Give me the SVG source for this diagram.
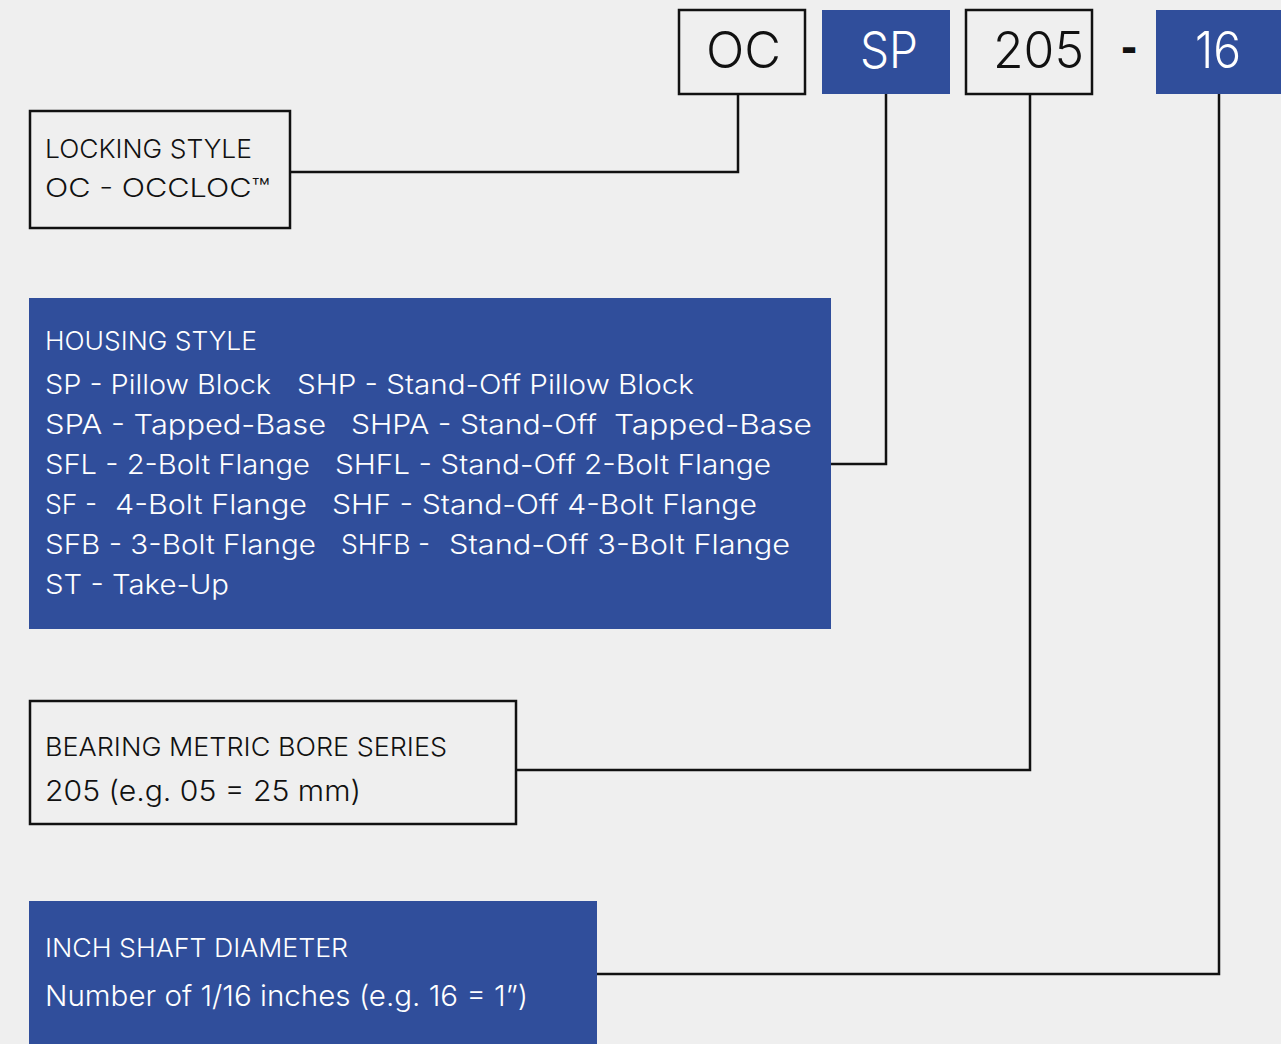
<svg xmlns="http://www.w3.org/2000/svg" width="1281" height="1044" viewBox="0 0 1281 1044">
<style>
.bg{fill:#efefef}
.wbox{fill:#efefef;stroke:#111;stroke-width:2.5}
.bbox{fill:#304e9b}
.t{font-family:Inter,"Open Sans","Liberation Sans",sans-serif;font-weight:300}
.dk{fill:#111}
.lt{fill:#ffffff}
.conn{fill:none;stroke:#111;stroke-width:2.5}
</style>
<rect class="bg" x="0" y="0" width="1281" height="1044"/>
<g id="connectors">
<polyline class="conn" points="738,95 738,172 290,172"/>
<polyline class="conn" points="886,94 886,464 831,464"/>
<polyline class="conn" points="1030,95 1030,770 516,770"/>
<polyline class="conn" points="1219,94 1219,974 597,974"/>
</g>
<g id="code-oc">
<rect class="wbox" x="679" y="10" width="126" height="84"/>
<text class="t dk" x="706" y="68" font-size="50" textLength="75" lengthAdjust="spacingAndGlyphs">OC</text>
</g>
<g id="code-sp">
<rect class="bbox" x="822" y="10" width="128" height="84"/>
<text class="t lt" x="860" y="68" font-size="50" textLength="58" lengthAdjust="spacingAndGlyphs">SP</text>
</g>
<g id="code-205">
<rect class="wbox" x="966" y="10" width="126" height="84"/>
<text class="t dk" x="993" y="68" font-size="50" textLength="91" lengthAdjust="spacingAndGlyphs">205</text>
</g>
<g id="code-dash">
<text x="1129" y="62" font-family="'DejaVu Sans',sans-serif" font-size="40" font-weight="700" fill="#111" text-anchor="middle">-</text>
</g>
<g id="code-16">
<rect class="bbox" x="1156" y="10" width="125" height="84"/>
<text class="t lt" x="1195" y="68" font-size="50" textLength="46" lengthAdjust="spacingAndGlyphs">16</text>
</g>
<g id="locking-style">
<rect class="wbox" x="30" y="111" width="260" height="117"/>
<text class="t dk" x="45" y="158" font-size="26" textLength="207" lengthAdjust="spacingAndGlyphs">LOCKING STYLE</text>
<text class="t dk" x="45" y="197" font-size="26" textLength="225" lengthAdjust="spacingAndGlyphs">OC - OCCLOC™</text>
</g>
<g id="housing-style">
<rect class="bbox" x="29" y="298" width="802" height="331"/>
<text class="t lt" x="45" y="350" font-size="26" textLength="212" lengthAdjust="spacingAndGlyphs">HOUSING STYLE</text>
<text class="t lt" font-size="27">
<tspan x="45" y="394" textLength="226" lengthAdjust="spacingAndGlyphs">SP - Pillow Block</tspan>
<tspan x="297" y="394" textLength="397" lengthAdjust="spacingAndGlyphs">SHP - Stand-Off Pillow Block</tspan>
<tspan x="45" y="434" textLength="281" lengthAdjust="spacingAndGlyphs">SPA - Tapped-Base</tspan>
<tspan x="351" y="434" textLength="246" lengthAdjust="spacingAndGlyphs">SHPA - Stand-Off</tspan>
<tspan x="614" y="434" textLength="198" lengthAdjust="spacingAndGlyphs">Tapped-Base</tspan>
<tspan x="45" y="474" textLength="265" lengthAdjust="spacingAndGlyphs">SFL - 2-Bolt Flange</tspan>
<tspan x="335" y="474" textLength="436" lengthAdjust="spacingAndGlyphs">SHFL - Stand-Off 2-Bolt Flange</tspan>
<tspan x="45" y="514" textLength="52" lengthAdjust="spacingAndGlyphs">SF -</tspan>
<tspan x="115" y="514" textLength="192" lengthAdjust="spacingAndGlyphs">4-Bolt Flange</tspan>
<tspan x="332" y="514" textLength="425" lengthAdjust="spacingAndGlyphs">SHF - Stand-Off 4-Bolt Flange</tspan>
<tspan x="45" y="554" textLength="271" lengthAdjust="spacingAndGlyphs">SFB - 3-Bolt Flange</tspan>
<tspan x="341" y="554" textLength="89" lengthAdjust="spacingAndGlyphs">SHFB -</tspan>
<tspan x="449" y="554" textLength="341" lengthAdjust="spacingAndGlyphs">Stand-Off 3-Bolt Flange</tspan>
<tspan x="45" y="594" textLength="184" lengthAdjust="spacingAndGlyphs">ST - Take-Up</tspan>
</text>
</g>
<g id="bearing-series">
<rect class="wbox" x="30" y="701" width="486" height="123"/>
<text class="t dk" x="45" y="756" font-size="26" textLength="402" lengthAdjust="spacingAndGlyphs">BEARING METRIC BORE SERIES</text>
<text class="t dk" x="45" y="801" font-size="29" textLength="316" lengthAdjust="spacingAndGlyphs">205 (e.g. 05 = 25 mm)</text>
</g>
<g id="inch-shaft">
<rect class="bbox" x="29" y="901" width="568" height="143"/>
<text class="t lt" x="45" y="957" font-size="26" textLength="303" lengthAdjust="spacingAndGlyphs">INCH SHAFT DIAMETER</text>
<text class="t lt" x="45" y="1006" font-size="29" textLength="483" lengthAdjust="spacingAndGlyphs">Number of 1/16 inches (e.g. 16 = 1”)</text>
</g>
</svg>
